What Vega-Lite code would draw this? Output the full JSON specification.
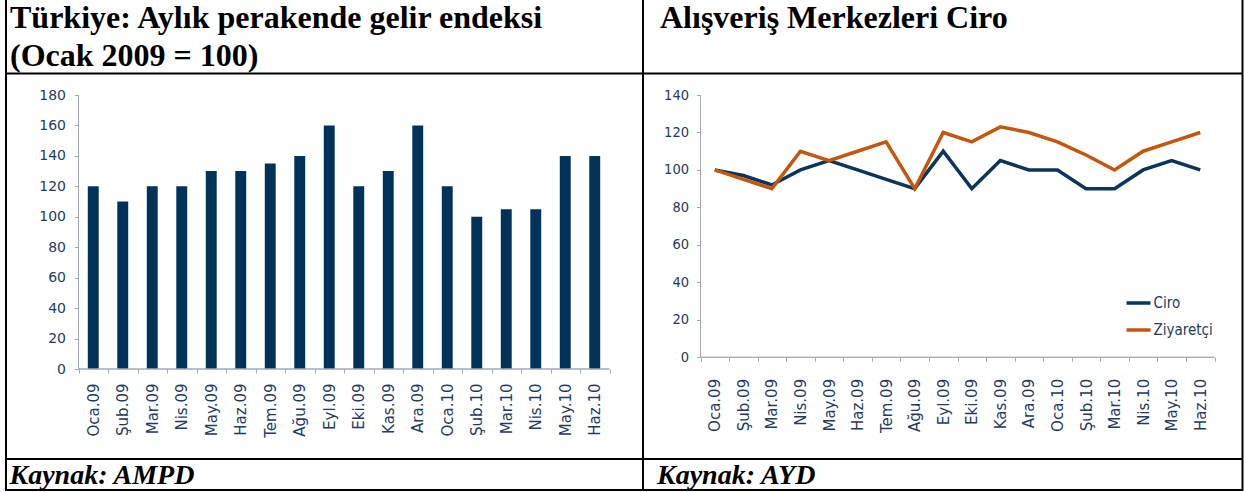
{
  "$schema": "https://vega.github.io/schema/vega-lite/v6.json",
  "padding": {"left": -2, "top": -3, "right": 0, "bottom": 0},
  "background": "white",
  "config": {
    "view": {"stroke": "black", "strokeWidth": 2},
    "concat": {"spacing": 0}
  },
  "datasets": {
    "retail": [
      {"month": "Oca.09", "value": 120},
      {"month": "Şub.09", "value": 110},
      {"month": "Mar.09", "value": 120},
      {"month": "Nis.09", "value": 120},
      {"month": "May.09", "value": 130},
      {"month": "Haz.09", "value": 130},
      {"month": "Tem.09", "value": 135},
      {"month": "Ağu.09", "value": 140},
      {"month": "Eyl.09", "value": 160},
      {"month": "Eki.09", "value": 120},
      {"month": "Kas.09", "value": 130},
      {"month": "Ara.09", "value": 160},
      {"month": "Oca.10", "value": 120},
      {"month": "Şub.10", "value": 100},
      {"month": "Mar.10", "value": 105},
      {"month": "Nis.10", "value": 105},
      {"month": "May.10", "value": 140},
      {"month": "Haz.10", "value": 140}
    ],
    "avm": [
      {"month": "Oca.09", "series": "Ciro", "value": 100},
      {"month": "Şub.09", "series": "Ciro", "value": 97},
      {"month": "Mar.09", "series": "Ciro", "value": 92},
      {"month": "Nis.09", "series": "Ciro", "value": 100},
      {"month": "May.09", "series": "Ciro", "value": 105},
      {"month": "Haz.09", "series": "Ciro", "value": 100},
      {"month": "Tem.09", "series": "Ciro", "value": 95},
      {"month": "Ağu.09", "series": "Ciro", "value": 90},
      {"month": "Eyl.09", "series": "Ciro", "value": 110},
      {"month": "Eki.09", "series": "Ciro", "value": 90},
      {"month": "Kas.09", "series": "Ciro", "value": 105},
      {"month": "Ara.09", "series": "Ciro", "value": 100},
      {"month": "Oca.10", "series": "Ciro", "value": 100},
      {"month": "Şub.10", "series": "Ciro", "value": 90},
      {"month": "Mar.10", "series": "Ciro", "value": 90},
      {"month": "Nis.10", "series": "Ciro", "value": 100},
      {"month": "May.10", "series": "Ciro", "value": 105},
      {"month": "Haz.10", "series": "Ciro", "value": 100},
      {"month": "Oca.09", "series": "Ziyaretçi", "value": 100},
      {"month": "Şub.09", "series": "Ziyaretçi", "value": 95},
      {"month": "Mar.09", "series": "Ziyaretçi", "value": 90},
      {"month": "Nis.09", "series": "Ziyaretçi", "value": 110},
      {"month": "May.09", "series": "Ziyaretçi", "value": 105},
      {"month": "Haz.09", "series": "Ziyaretçi", "value": 110},
      {"month": "Tem.09", "series": "Ziyaretçi", "value": 115},
      {"month": "Ağu.09", "series": "Ziyaretçi", "value": 90},
      {"month": "Eyl.09", "series": "Ziyaretçi", "value": 120},
      {"month": "Eki.09", "series": "Ziyaretçi", "value": 115},
      {"month": "Kas.09", "series": "Ziyaretçi", "value": 123},
      {"month": "Ara.09", "series": "Ziyaretçi", "value": 120},
      {"month": "Oca.10", "series": "Ziyaretçi", "value": 115},
      {"month": "Şub.10", "series": "Ziyaretçi", "value": 108},
      {"month": "Mar.10", "series": "Ziyaretçi", "value": 100},
      {"month": "Nis.10", "series": "Ziyaretçi", "value": 110},
      {"month": "May.10", "series": "Ziyaretçi", "value": 115},
      {"month": "Haz.10", "series": "Ziyaretçi", "value": 120}
    ]
  },
  "spacing": 0,
  "bounds": "flush",
  "hconcat": [
    {
      "width": 637, "height": 492,
      "data": {"name": "retail"},
      "layer": [
        {
          "mark": {"type": "bar", "color": "#00325a", "width": {"band": 0.37}},
          "encoding": {
            "x": {
              "field": "month", "type": "ordinal",
              "scale": {
                "type": "band",
                "domain": ["Oca.09","Şub.09","Mar.09","Nis.09","May.09","Haz.09","Tem.09","Ağu.09","Eyl.09","Eki.09","Kas.09","Ara.09","Oca.10","Şub.10","Mar.10","Nis.10","May.10","Haz.10"],
                "range": [72.5, 603.5],
                "paddingInner": 0, "paddingOuter": 0
              },
              "axis": {
                "orient": "bottom", "offset": -121, "domain": false, "grid": false,
                "tickBand": "extent", "tickSize": 4, "tickColor": "#a3a8b4", "tickWidth": 1,
                "labelAngle": -90, "labelAlign": "right", "labelBaseline": "middle",
                "labelFont": "DejaVu Sans", "labelFontSize": 15, "labelColor": "#1f3b60",
                "labelPadding": 10,
                "title": "Kaynak: AMPD",
                "titleX": 3, "titleY": 114, "titleAlign": "left", "titleBaseline": "alphabetic", "titleAngle": 0,
                "titleFont": "Liberation Serif", "titleFontWeight": "bold", "titleFontStyle": "italic",
                "titleFontSize": 28, "titleColor": "black"
              }
            },
            "y": {
              "field": "value", "type": "quantitative",
              "scale": {"domain": [-79.49, 243.73], "nice": false, "zero": false},
              "axis": {
                "orient": "left", "offset": -72.5, "values": [0,20,40,60,80,100,120,140,160,180],
                "domain": false, "grid": false, "tickSize": 4, "tickColor": "#a3a8b4",
                "labelFont": "DejaVu Sans", "labelFontSize": 14, "labelColor": "#1f3b60",
                "labelPadding": 9,
                "title": ["Türkiye: Aylık perakende gelir endeksi", "(Ocak 2009 = 100)"],
                "titleX": -69, "titleY": 29, "titleAlign": "left", "titleBaseline": "alphabetic", "titleAngle": 0,
                "titleFont": "Liberation Serif", "titleFontWeight": "bold", "titleFontSize": 32,
                "titleLineHeight": 38, "titleColor": "black"
              }
            },
            "y2": {"datum": 0}
          }
        },
        {
          "mark": {"type": "bar", "width": {"band": 1}, "fillOpacity": 0, "stroke": "#a3a8b4", "strokeWidth": 1},
          "encoding": {
            "x": {"field": "month", "type": "ordinal"},
            "y": {"datum": 0}, "y2": {"datum": 0}
          }
        },
        {
          "data": {"values": [{}]},
          "mark": {"type": "rule", "color": "#a3a8b4", "strokeWidth": 1},
          "encoding": {
            "x": {"datum": "Oca.09", "bandPosition": 0},
            "y": {"datum": 0}, "y2": {"datum": 180}
          }
        },
        {
          "data": {"values": [{}]},
          "mark": {"type": "rule", "color": "black", "strokeWidth": 2},
          "encoding": {"y": {"datum": 194.13}}
        },
        {
          "data": {"values": [{}]},
          "mark": {"type": "rule", "color": "black", "strokeWidth": 2},
          "encoding": {"y": {"datum": -59.13}}
        }
      ]
    },
    {
      "width": 599.5, "height": 492,
      "data": {"name": "avm"},
      "layer": [
        {
          "mark": {"type": "line", "strokeWidth": 3.5, "strokeJoin": "miter"},
          "encoding": {
            "x": {
              "field": "month", "type": "ordinal",
              "scale": {
                "type": "band",
                "domain": ["Oca.09","Şub.09","Mar.09","Nis.09","May.09","Haz.09","Tem.09","Ağu.09","Eyl.09","Eki.09","Kas.09","Ara.09","Oca.10","Şub.10","Mar.10","Nis.10","May.10","Haz.10"],
                "range": [57.5, 571.5],
                "paddingInner": 0, "paddingOuter": 0
              },
              "axis": {
                "orient": "bottom", "offset": -132.7, "domain": false, "grid": false,
                "tickBand": "extent", "tickSize": 4, "tickColor": "#a3a8b4", "tickWidth": 1,
                "labelAngle": -90, "labelAlign": "right", "labelBaseline": "middle",
                "labelFont": "DejaVu Sans", "labelFontSize": 15, "labelColor": "#1f3b60",
                "labelPadding": 17,
                "title": "Kaynak: AYD",
                "titleX": 13.5, "titleY": 125.7, "titleAlign": "left", "titleBaseline": "alphabetic", "titleAngle": 0,
                "titleFont": "Liberation Serif", "titleFontWeight": "bold", "titleFontStyle": "italic",
                "titleFontSize": 28, "titleColor": "black"
              }
            },
            "y": {
              "field": "value", "type": "quantitative",
              "scale": {"domain": [-70.83, 191.78], "nice": false, "zero": false},
              "axis": {
                "orient": "left", "offset": -57.5, "values": [0,20,40,60,80,100,120,140],
                "domain": false, "grid": false, "tickSize": 4, "tickColor": "#a3a8b4",
                "labelFont": "Liberation Sans Narrow, DejaVu Sans Condensed, sans-serif",
                "labelFontSize": 14.5, "labelColor": "#1f3b60",
                "labelPadding": 8,
                "title": "Alışveriş Merkezleri Ciro",
                "titleX": -41, "titleY": 29, "titleAlign": "left", "titleBaseline": "alphabetic", "titleAngle": 0,
                "titleFont": "Liberation Serif", "titleFontWeight": "bold", "titleFontSize": 32,
                "titleColor": "black"
              }
            },
            "color": {
              "field": "series", "type": "nominal",
              "scale": {"domain": ["Ciro", "Ziyaretçi"], "range": ["#0b355a", "#c4570d"]},
              "legend": {
                "orient": "none", "legendX": 1118.5, "legendY": 291, "title": null,
                "symbolType": "stroke", "symbolSize": 576, "symbolStrokeWidth": 3.5,
                "labelFont": "Liberation Sans Narrow, DejaVu Sans Condensed, sans-serif",
                "labelFontSize": 15, "labelColor": "#1f3b60",
                "rowPadding": 5, "labelOffset": 1, "padding": 0
              }
            }
          }
        },
        {
          "transform": [{"filter": "datum.series === 'Ciro'"}],
          "mark": {"type": "bar", "width": {"band": 1}, "fillOpacity": 0, "stroke": "#a3a8b4", "strokeWidth": 1},
          "encoding": {
            "x": {"field": "month", "type": "ordinal"},
            "y": {"datum": 0}, "y2": {"datum": 0}
          }
        },
        {
          "data": {"values": [{}]},
          "mark": {"type": "rule", "color": "#a3a8b4", "strokeWidth": 1},
          "encoding": {
            "x": {"datum": "Oca.09", "bandPosition": 0},
            "y": {"datum": 0}, "y2": {"datum": 140}
          }
        },
        {
          "data": {"values": [{}]},
          "mark": {"type": "rule", "color": "black", "strokeWidth": 2},
          "encoding": {"y": {"datum": 151.48}}
        },
        {
          "data": {"values": [{}]},
          "mark": {"type": "rule", "color": "black", "strokeWidth": 2},
          "encoding": {"y": {"datum": -54.28}}
        }
      ]
    }
  ]
}
